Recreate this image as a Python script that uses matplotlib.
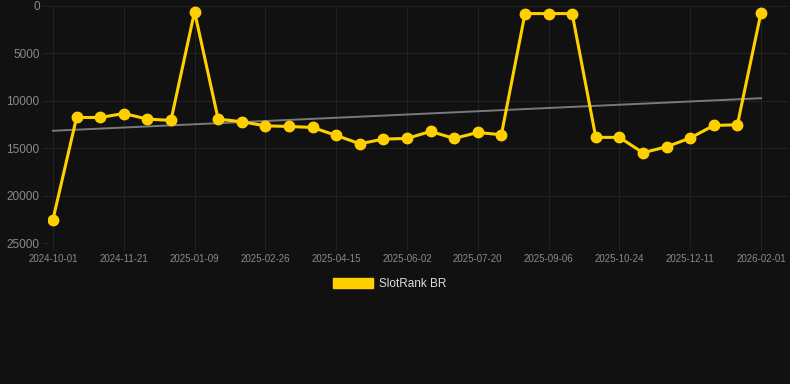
"""
SlotRank BR 排名走势图（y轴反转，排名越小越靠上）
"""

import numpy as np
import matplotlib
matplotlib.use('Agg')
import matplotlib.pyplot as plt
from matplotlib.patches import Patch

# 数据
tick_labels = ['2024-10-01', '2024-11-21', '2025-01-09', '2025-02-26', '2025-04-15',
               '2025-06-02', '2025-07-20', '2025-09-06', '2025-10-24', '2025-12-11',
               '2026-02-01']
rank_values = [22530, 11760, 11760, 11340, 11930, 12070, 600, 11930, 12210, 12640,
               12710, 12810, 13650, 14530, 14040, 13970, 13230, 13970, 13340, 13580,
               800, 800, 800, 13860, 13860, 15480, 14850, 13930, 12600, 12530, 700]
series_name = 'SlotRank BR'

# 颜色
bg_color = '#111111'
grid_color = '#222222'
text_color = '#8a8a8a'
line_color = '#FFD000'
trend_color = '#7a7a7a'

plt.rcParams['font.family'] = ['Liberation Sans', 'DejaVu Sans']


def plot_rank():
    x = np.arange(len(rank_values))
    y = np.array(rank_values, dtype=float)

    fig = plt.figure(figsize=(7.9, 3.84), dpi=100, facecolor=bg_color)
    ax = fig.add_axes([48 / 790, (384 - 243) / 384, (788 - 48) / 790, 237 / 384])
    ax.set_facecolor(bg_color)

    # 趋势线（线性拟合）
    k, b = np.polyfit(x, y, 1)
    ax.plot(x, k * x + b, color=trend_color, linewidth=1.4, zorder=2)

    # 主折线
    ax.plot(x, y, color=line_color, linewidth=2.2, marker='o', markersize=7.5,
            markerfacecolor=line_color, markeredgecolor=line_color, zorder=3)

    ax.set_xlim(-0.21, 30 + (788 - 761) / 23.6)
    ax.set_ylim(25000, 0)

    tick_pos = np.arange(0, len(rank_values), 3)
    ax.set_xticks(tick_pos)
    ax.set_xticklabels(tick_labels)
    ax.set_yticks([0, 5000, 10000, 15000, 20000, 25000])

    ax.grid(True, color=grid_color, linewidth=0.8)
    ax.set_axisbelow(True)
    for spine in ax.spines.values():
        spine.set_visible(False)

    ax.tick_params(axis='x', colors=grid_color, labelcolor=text_color, labelsize=7,
                   length=5, width=0.8, pad=3)
    ax.tick_params(axis='y', colors=grid_color, labelcolor=text_color, labelsize=8.5,
                   length=4, width=0.8, pad=2)

    # 图例（放在图下方居中）
    handle = Patch(facecolor=line_color, edgecolor=line_color)
    leg = fig.legend([handle], [series_name], loc='center',
                     bbox_to_anchor=(0.5 - 5 / 790, (384 - 284) / 384), frameon=False,
                     fontsize=8.5, handlelength=3.4, handleheight=1.0,
                     handletextpad=0.5)
    for t in leg.get_texts():
        t.set_color('#dddddd')

    fig.savefig('out.png', dpi=100, facecolor=bg_color)


if __name__ == "__main__":
    plot_rank()
